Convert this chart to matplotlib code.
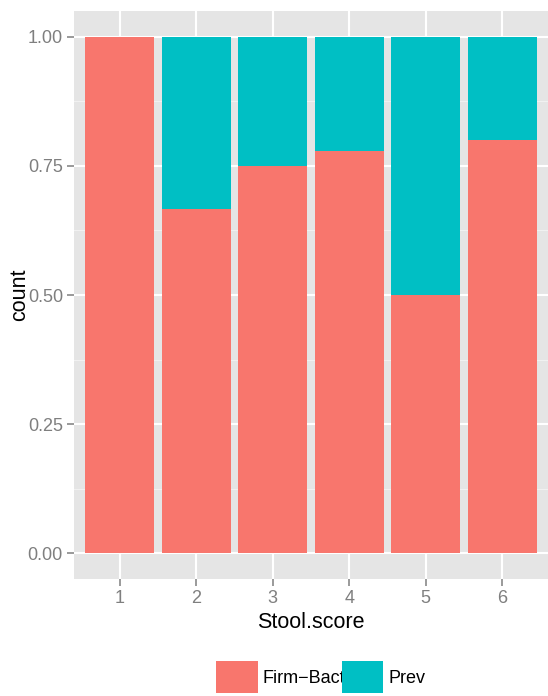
import matplotlib
matplotlib.use("Agg")
import matplotlib.pyplot as plt
import numpy as np
from matplotlib.patches import Patch

categories = ["1", "2", "3", "4", "5", "6"]
firm_bact = [1.0, 0.667, 0.75, 0.778, 0.5, 0.8]
prev = [0.0, 0.333, 0.25, 0.222, 0.5, 0.2]
series_names = ["Firm\u2212Bact", "Prev"]
colors = ["#F8766D", "#00BFC4"]
yticks = [0.0, 0.25, 0.5, 0.75, 1.0]
ytick_labels = ["0.00", "0.25", "0.50", "0.75", "1.00"]

plt.rcParams["font.family"] = ["Liberation Sans", "DejaVu Sans"]

W, H = 548, 696
fig = plt.figure(figsize=(W / 100, H / 100), dpi=100)
ax = fig.add_axes([74 / W, 1 - 579 / H, (548 - 74) / W, (579 - 11) / H])
ax.set_facecolor("#E5E5E5")
for s in ax.spines.values():
    s.set_visible(False)

x = np.arange(1, len(categories) + 1)
ax.bar(x, firm_bact, width=0.9, color=colors[0], zorder=3)
ax.bar(x, prev, width=0.9, bottom=firm_bact, color=colors[1], zorder=3)

ax.set_xlim(0.4, 6.6)
ax.set_ylim(-0.05, 1.05)
ax.set_xticks(x)
ax.set_xticklabels(categories)
ax.set_yticks(yticks)
ax.set_yticklabels(ytick_labels)
ax.set_yticks([0.125, 0.375, 0.625, 0.875], minor=True)

ax.grid(which="major", color="white", linewidth=1.5, zorder=1)
ax.grid(which="minor", axis="y", color="#F2F2F2", linewidth=0.7, zorder=1)
ax.set_axisbelow(True)
ax.tick_params(axis="both", which="major", length=5, width=1.1, color="#7F7F7F",
               labelcolor="#7F7F7F", labelsize=13, pad=3)
ax.tick_params(axis="both", which="minor", length=0)

fig.text(311 / W, 1 - 623 / H, "Stool.score", ha="center", va="center", fontsize=15.5, color="black")
fig.text(20 / W, 1 - 295 / H, "count", ha="center", va="center", rotation=90, fontsize=15.5, color="black")

handles = [Patch(facecolor=c, edgecolor="none") for c in colors]
fig.legend(handles, series_names, loc="center left", bbox_to_anchor=(216 / W, 1 - 677 / H),
           ncol=2, frameon=False, fontsize=13, borderpad=0, handlelength=2.3, handleheight=2.3,
           handletextpad=0.3, columnspacing=-0.2, borderaxespad=0)

fig.savefig("out.png", dpi=100)
